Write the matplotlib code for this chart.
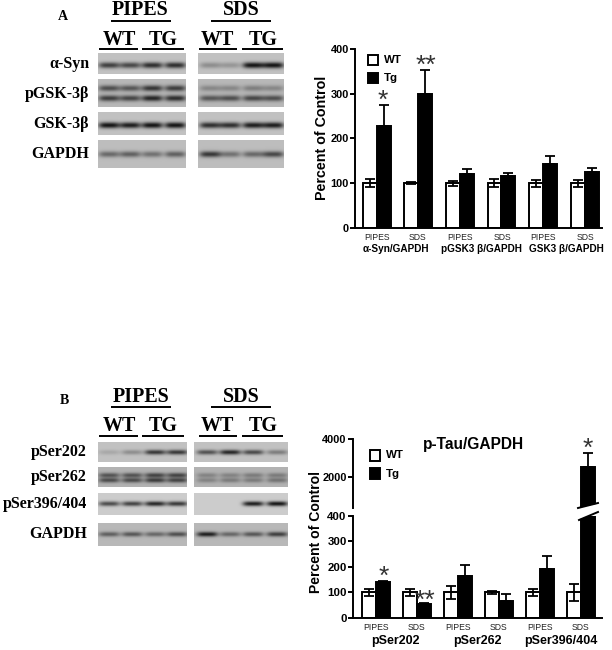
import numpy as np
import matplotlib
matplotlib.use("Agg")
import matplotlib.pyplot as plt
from matplotlib.patches import Rectangle, Polygon

W, H = 612, 650

# bar chart values
a_groups = ["PIPES", "SDS", "PIPES", "SDS", "PIPES", "SDS"]
a_wt = [100, 100, 100, 100, 100, 100]
a_wt_err = [9, 2, 6, 9, 8, 8]
a_tg = [228, 300, 121, 117, 142, 125]
a_tg_err = [47, 52, 10, 6, 19, 10]
a_ticks = [0, 100, 200, 300, 400]

b_groups = ["PIPES", "SDS", "PIPES", "SDS", "PIPES", "SDS"]
b_wt = [100, 100, 100, 100, 100, 100]
b_wt_err = [15, 15, 25, 6, 15, 32]
b_tg = [140, 55, 165, 68, 190, 2530]
b_tg_err = [5, 5, 43, 25, 52, 740]
b_ticks_low = [0, 100, 200, 300, 400]
b_ticks_high = [2000, 4000]

# blot band darkness per lane (left gel then right gel)
a_syn = [0.75, 0.7, 0.85, 0.85, 0.3, 0.25, 1.0, 1.0]
a_pgsk_up = [0.65, 0.6, 0.8, 0.75, 0.3, 0.3, 0.35, 0.3]
a_pgsk_lo = [0.75, 0.7, 0.9, 0.85, 0.6, 0.65, 0.7, 0.65]
a_gsk = [1.0, 0.95, 1.0, 1.0, 0.85, 0.85, 0.95, 0.95]
a_gapdh = [0.5, 0.55, 0.45, 0.55, 0.8, 0.45, 0.5, 0.7]
b_202 = [0.15, 0.3, 0.8, 0.8, 0.65, 0.9, 0.7, 0.4]
b_262_up = [0.6, 0.6, 0.7, 0.7, 0.3, 0.3, 0.35, 0.35]
b_262_lo = [0.65, 0.65, 0.75, 0.7, 0.3, 0.35, 0.35, 0.4]
b_396 = [0.7, 0.75, 0.9, 0.8, 0.0, 0.0, 0.95, 1.0]
b_gapdh = [0.55, 0.6, 0.5, 0.65, 0.95, 0.5, 0.6, 0.75]

fig = plt.figure(figsize=(W / 100, H / 100), dpi=100, facecolor="white")
over = fig.add_axes([0, 0, 1, 1], zorder=5)
over.axis("off")
over.patch.set_alpha(0)

serif = "Liberation Serif"
sans = "Liberation Sans"


def px_text(x, y, s, size, family=sans, ha="center", **kw):
    over.text(x, y, s, fontsize=size * 0.72, family=family, fontweight="bold",
              ha=ha, va="center", **kw)


def blot(box, lanes, bands, bg, lane_w=10.5, band_h=3.0):
    # one gel strip, bands = list of (y pixel, darkness per lane)
    x0, x1, y0, y1 = box
    xs = np.arange(x0, x1, 0.5)
    ys = np.arange(y0, y1, 0.5)
    xx, yy = np.meshgrid(xs, ys)
    img = np.zeros_like(xx)
    for by, dark in bands:
        for cx, d in zip(lanes, dark):
            img += d * np.exp(-((xx - cx) / lane_w) ** 4 - ((yy - by) / band_h) ** 2)
    img = bg - (bg - 0.08) * np.clip(img, 0, 1)
    over.imshow(img, cmap="gray", vmin=0, vmax=1, extent=(x0, x1, y1, y0),
                aspect="auto", interpolation="bilinear", zorder=1)


def underline(x0, x1, y):
    over.plot([x0, x1], [y, y], color="black", lw=1.4, solid_capstyle="butt")


def gel_headers(pipes_y, pipes_x, sds_x, ul1, wt_y, ul2, label, label_xy):
    px_text(pipes_x, pipes_y, "PIPES", 20, serif)
    px_text(sds_x, pipes_y, "SDS", 20, serif)
    underline(111, 171, ul1)
    underline(211, 271, ul1)
    for cx, s, a, b in [(119, "WT", 99, 138), (163, "TG", 142, 184),
                        (217, "WT", 199, 237), (263, "TG", 242, 283)]:
        px_text(cx, wt_y, s, 20, serif)
        underline(a, b, ul2)
    px_text(label_xy[0], label_xy[1], label, 14, serif)


# panel A gels
lanes_l = [109, 130, 152, 175]
lanes_r = [210, 230, 253, 273]
rows_a = [
    ((53, 74), [(65, a_syn)], "α-Syn", 0.76),
    ((79, 107), [(88, a_pgsk_up), (98, a_pgsk_lo)], "pGSK-3β", 0.72),
    ((112, 135), [(125, a_gsk)], "GSK-3β", 0.76),
    ((140, 168), [(154, a_gapdh)], "GAPDH", 0.74),
]
for (y0, y1), bands, name, bg in rows_a:
    blot((98, 186, y0, y1), lanes_l, [(y, d[:4]) for y, d in bands], bg)
    blot((198, 284, y0, y1), lanes_r, [(y, d[4:]) for y, d in bands], bg)
    px_text(89, (y0 + y1) / 2 + 0.5, name, 16, serif, ha="right")
gel_headers(10, 140, 241, 20.7, 40, 49, "A", (63, 16))

# panel B gels
lanes_l = [109, 132, 155, 177]
lanes_r = [207, 230, 253, 277]
rows_b = [
    ((442, 462), [(452, b_202)], "pSer202", 0.76),
    ((467, 487), [(475, b_262_up), (480, b_262_lo)], "pSer262", 0.70),
    ((493, 515), [(503.5, b_396)], "pSer396/404", 0.80),
    ((523, 546), [(534, b_gapdh)], "GAPDH", 0.72),
]
for (y0, y1), bands, name, bg in rows_b:
    blot((98, 187, y0, y1), lanes_l, [(y, d[:4]) for y, d in bands], bg, band_h=2.4)
    blot((194, 288, y0, y1), lanes_r, [(y, d[4:]) for y, d in bands], bg, band_h=2.4)
    px_text(87, (y0 + y1) / 2, name, 16, serif, ha="right")
gel_headers(397, 141, 241, 407, 426, 436, "B", (64, 400))
over.set_xlim(0, W)
over.set_ylim(H, 0)


def make_axes(x0, x1, y_top, y_bottom):
    ax = fig.add_axes([x0 / W, 1 - y_bottom / H, (x1 - x0) / W, (y_bottom - y_top) / H])
    ax.patch.set_alpha(0)
    for side in ["top", "right"]:
        ax.spines[side].set_visible(False)
    for side in ["left", "bottom"]:
        ax.spines[side].set_linewidth(1.4)
    ax.tick_params(axis="y", width=1.4, length=3.5, pad=1)
    return ax


def draw_bars(ax, wt, wt_err, tg, tg_err, width):
    x = np.arange(len(wt))
    ax.bar(x - width / 2, wt, width, color="white", edgecolor="black", linewidth=1.4,
           yerr=[wt_err, wt_err], error_kw=dict(ecolor="black", elinewidth=1.3, capsize=3.6, capthick=1.3))
    zeros = [0] * len(tg)
    ax.bar(x + width / 2, tg, width, color="black", edgecolor="black", linewidth=1.4,
           yerr=[zeros, tg_err], error_kw=dict(ecolor="black", elinewidth=1.3, capsize=3.6, capthick=1.3))


def style_y(ax, ticks, size):
    ax.set_yticks(ticks)
    ax.set_yticklabels([str(t) for t in ticks], fontsize=size * 0.72, family=sans, fontweight="bold")


# chart A
ax_a = make_axes(355, 602, 49, 228)
draw_bars(ax_a, a_wt, a_wt_err, a_tg, a_tg_err, 0.335)
ax_a.set_xlim(-0.52, 5.416)
ax_a.set_ylim(0, 400)
ax_a.set_xticks([])
style_y(ax_a, a_ticks, 11)

for cx, s in zip([376.7, 418, 460, 502.5, 543.5, 586], a_groups):
    over.text(cx, 237.5, s, fontsize=6.2, family=sans, ha="center", va="center", color="#222222")
px_text(396, 249, "α-Syn/GAPDH", 10)
px_text(481, 249, "pGSK3 β/GAPDH", 10)
px_text(566, 249, "GSK3 β/GAPDH", 10)
px_text(322, 138, "Percent of Control", 14.2, rotation=90)

over.add_patch(Rectangle((367.5, 54.5), 10.5, 10.5, fc="white", ec="black", lw=1.4))
over.add_patch(Rectangle((367.5, 72.5), 10.5, 10.5, fc="black", ec="black", lw=1.4))
px_text(384, 60, "WT", 11.5, ha="left")
px_text(384, 78, "Tg", 11.5, ha="left")
over.text(383, 101, "*", fontsize=19, family=sans, ha="center", va="center", color="#333333")
over.text(426, 66, "**", fontsize=19, family=sans, ha="center", va="center", color="#333333")

# chart B, broken y axis
ax_low = make_axes(353, 602, 515.7, 618)
ax_high = make_axes(353, 602, 439, 508)
for ax, lim in [(ax_low, (0, 400)), (ax_high, (340, 4000))]:
    draw_bars(ax, b_wt, b_wt_err, b_tg, b_tg_err, 0.34)
    ax.set_xlim(-0.56, 5.5)
    ax.set_ylim(*lim)
    ax.set_xticks([])
ax_high.spines["bottom"].set_visible(False)
style_y(ax_low, b_ticks_low, 11.5)
style_y(ax_high, b_ticks_high, 11)

# break marks across the tall bar
over.add_patch(Polygon([(577, 508), (601, 503), (601, 512), (577, 520)], fc="white", ec="none", zorder=3))
over.plot([578, 598], [508, 503], color="black", lw=1.4, zorder=4)
over.plot([579, 598], [520, 512], color="black", lw=1.4, zorder=4)

for cx, s in zip([376, 417, 458, 499, 540, 581], b_groups):
    over.text(cx, 627, s, fontsize=6.2, family=sans, ha="center", va="center", color="#222222")
px_text(395, 641, "pSer202", 12.5)
px_text(477, 641, "pSer262", 12.5)
px_text(561, 641, "pSer396/404", 12.5)
px_text(316, 532, "Percent of Control", 14, rotation=90)
px_text(473, 444, "p-Tau/GAPDH", 15.5)

over.add_patch(Rectangle((370, 450), 10, 11, fc="white", ec="black", lw=1.4))
over.add_patch(Rectangle((370, 468), 10, 11, fc="black", ec="black", lw=1.4))
px_text(386, 455, "WT", 11.5, ha="left")
px_text(386, 474, "Tg", 11.5, ha="left")
over.text(384, 577, "*", fontsize=19, family=sans, ha="center", va="center", color="#333333")
over.text(425, 601, "**", fontsize=19, family=sans, ha="center", va="center", color="#333333")
over.text(588, 449, "*", fontsize=19, family=sans, ha="center", va="center", color="#333333")

fig.savefig("out.png", dpi=100)
